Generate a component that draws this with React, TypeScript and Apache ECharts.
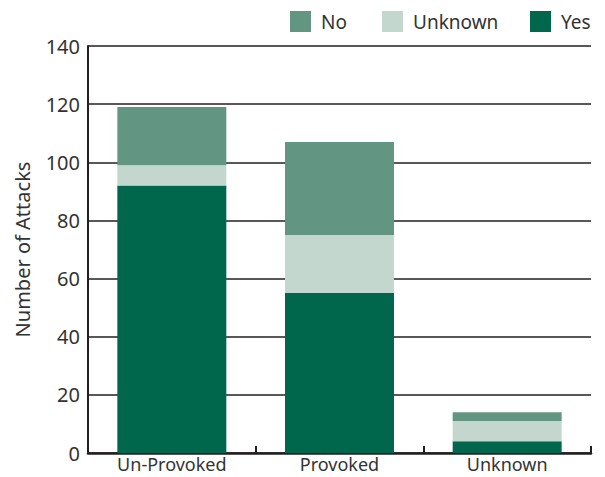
import React, { useEffect, useRef } from "react";
import * as echarts from "echarts";

const categories = ["Un-Provoked", "Provoked", "Unknown"];
const yesValues = [92, 55, 4];
const unknownValues = [7, 20, 7];
const noValues = [20, 32, 3];
const yTicks = [0, 20, 40, 60, 80, 100, 120, 140];

const INK = "#231f20";
const TEXT = "#333333";
const FONT = "Noto Sans";

export default function App() {
  const ref = useRef<HTMLDivElement>(null);

  useEffect(() => {
    if (!ref.current) return;
    const chart = echarts.init(ref.current, null, { renderer: "svg" });

    const legendBase = (name: string, left: number) => ({
      data: [name],
      left,
      top: 11,
      padding: 0,
      itemWidth: 21,
      itemHeight: 21,
      icon: "rect",
      selectedMode: false,
      textStyle: {
        fontFamily: FONT,
        fontSize: 19,
        color: TEXT,
        padding: [0, 0, 0, 5],
      },
    });

    chart.setOption({
      animation: false,
      textStyle: { fontFamily: FONT },
      legend: [
        legendBase("No", 290),
        legendBase("Unknown", 382),
        legendBase("Yes", 530),
      ],
      grid: { left: 88, right: 14, top: 46, bottom: 24 },
      xAxis: {
        type: "category",
        data: categories,
        axisLine: { lineStyle: { color: INK, width: 2.5 } },
        axisTick: { show: true, inside: true, length: 7, lineStyle: { color: INK, width: 2 } },
        axisLabel: { fontFamily: FONT, fontSize: 18, lineHeight: 18, color: TEXT, margin: 2 },
      },
      yAxis: {
        type: "value",
        min: yTicks[0],
        max: yTicks[yTicks.length - 1],
        interval: 20,
        name: "Number of Attacks",
        nameLocation: "middle",
        nameGap: 56,
        nameTextStyle: { fontFamily: FONT, fontSize: 20, color: TEXT },
        axisLine: { show: true, lineStyle: { color: INK, width: 2 } },
        axisTick: { show: false },
        axisLabel: { fontFamily: FONT, fontSize: 20, color: TEXT, margin: 8 },
        splitLine: { lineStyle: { color: INK, width: 1.5 } },
      },
      series: [
        {
          name: "Yes",
          type: "bar",
          stack: "total",
          barWidth: "65%",
          data: yesValues,
          itemStyle: { color: "#00664c" },
        },
        {
          name: "Unknown",
          type: "bar",
          stack: "total",
          data: unknownValues,
          itemStyle: { color: "#c3d7ce" },
        },
        {
          name: "No",
          type: "bar",
          stack: "total",
          data: noValues,
          itemStyle: { color: "#639682" },
        },
      ],
    });

    return () => chart.dispose();
  }, []);

  return <div ref={ref} style={{ width: 605, height: 477, position: "absolute", left: 0, top: 0 }} />;
}
